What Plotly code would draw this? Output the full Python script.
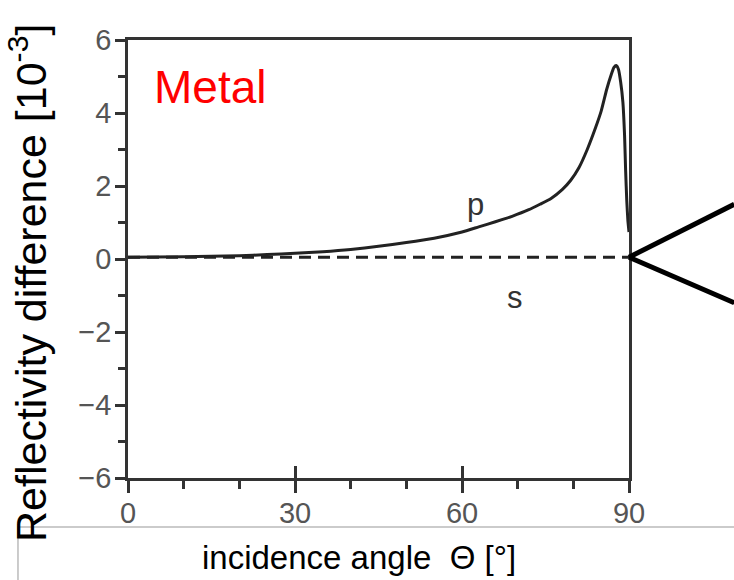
import plotly.graph_objects as go

# Incidence angle (degrees) and reflectivity difference (units of 1e-3)
angle_p = [0, 10, 20, 25, 30, 35, 40, 45, 50, 55, 60, 63, 66, 69, 72, 74, 76,
           78, 79.5, 81, 82.5, 84, 85, 86, 86.8, 87.3, 87.7, 88.1, 88.5, 88.9,
           89.2, 89.4, 89.6, 89.8, 90]
diff_p = [0.05, 0.06, 0.09, 0.12, 0.16, 0.2, 0.26, 0.35, 0.45, 0.57, 0.74,
          0.88, 1.02, 1.17, 1.35, 1.5, 1.66, 1.9, 2.15, 2.5, 3.0, 3.6, 4.05,
          4.65, 5.05, 5.25, 5.3, 5.2, 4.85, 4.3, 3.4, 2.4, 1.6, 1.05, 0.74]
angle_s = [0, 30, 60, 90]
diff_s = [0.05, 0.05, 0.05, 0.05]

x_ticks = [0, 30, 60, 90]
x_tick_text = ["0", "30", "60", "90"]
y_ticks = [-6, -4, -2, 0, 2, 4, 6]
y_tick_text = ["\u22126", "\u22124", "\u22122", "0", "2", "4", "6"]

X_RANGE = [0, 90]
Y_RANGE = [-6, 6]
FONT = "Liberation Sans, Arial, sans-serif"

fig = go.Figure()
fig.add_trace(go.Scatter(x=angle_s, y=diff_s, mode="lines",
                         line=dict(color="#222", width=3, dash="12px,7px"),
                         showlegend=False, hoverinfo="skip"))
fig.add_trace(go.Scatter(x=angle_p, y=diff_p, mode="lines",
                         line=dict(color="#222", width=3, shape="spline", smoothing=0.5),
                         showlegend=False, hoverinfo="skip"))
# helper trace so the crossing-tick overlay axis is rendered
fig.add_trace(go.Scatter(x=[X_RANGE[0]], y=[0], xaxis="x2", mode="markers",
                         marker=dict(opacity=0), showlegend=False, hoverinfo="skip"))

axis_common = dict(showgrid=False, zeroline=False, linecolor="#333", linewidth=2.5,
                   mirror=True, tickcolor="#333", tickwidth=2.5,
                   tickfont=dict(family=FONT, size=29, color="#555"))

fig.update_layout(
    width=734, height=580,
    margin=dict(l=128, r=105, t=40, b=102),
    paper_bgcolor="white", plot_bgcolor="white",
    xaxis=dict(range=X_RANGE, tickvals=x_ticks, ticktext=x_tick_text,
               ticks="outside", ticklen=12, ticklabelstandoff=-5,
               minor=dict(dtick=10, ticks="outside", ticklen=8,
                          tickcolor="#333", tickwidth=2.5),
               **axis_common),
    xaxis2=dict(range=X_RANGE, overlaying="x", anchor="y", side="bottom",
                tickvals=[30, 60], ticks="inside", ticklen=12, tickwidth=2.5,
                tickcolor="#333", showticklabels=False, showline=False,
                showgrid=False, zeroline=False),
    yaxis=dict(range=Y_RANGE, tickvals=y_ticks, ticktext=y_tick_text,
               ticks="outside", ticklen=10, ticklabelstandoff=-2,
               minor=dict(dtick=1, ticks="outside", ticklen=7,
                          tickcolor="#333", tickwidth=2.5),
               **axis_common),
)

def px_x(v):
    return (v - X_RANGE[0]) / (X_RANGE[1] - X_RANGE[0])

def px_y(v):
    return (v - Y_RANGE[0]) / (Y_RANGE[1] - Y_RANGE[0])

annotations = [
    dict(text="Metal", x=14.7, y=4.7, xref="x", yref="y", showarrow=False,
         font=dict(family=FONT, size=46, color="#ff0000")),
    dict(text="p", x=62.5, y=1.5, xref="x", yref="y", showarrow=False,
         font=dict(family=FONT, size=31, color="#333")),
    dict(text="s", x=69.5, y=-1.05, xref="x", yref="y", showarrow=False,
         font=dict(family=FONT, size=31, color="#333")),
    dict(text="Reflectivity difference [10<sup>-3</sup>]", textangle=-90,
         x=0, y=0.5, xref="paper", yref="paper", xanchor="center", yanchor="middle",
         xshift=-100, yshift=-24, showarrow=False,
         font=dict(family=FONT, size=43, color="#000")),
    dict(text="incidence angle  \u0398 [\u00b0]", x=0.5, y=0, xref="paper", yref="paper",
         xanchor="center", yanchor="middle", xshift=-20, yshift=-79, showarrow=False,
         font=dict(family=FONT, size=33, color="#000")),
]
fig.update_layout(annotations=annotations)

# zoom-out indicator lines leaving the end of the curve at 90 degrees
apex_x = px_x(angle_s[-1])
apex_y = px_y(diff_s[-1])
shapes = [
    dict(type="line", xref="paper", yref="paper", x0=apex_x, y0=apex_y,
         x1=1.21, y1=0.625, line=dict(color="black", width=5)),
    dict(type="line", xref="paper", yref="paper", x0=apex_x, y0=apex_y,
         x1=1.21, y1=0.40, line=dict(color="black", width=5)),
    # light frame around the axis-title strip
    dict(type="path", xref="paper", yref="paper",
         path="M 1.22,-0.112 L -0.2196,-0.112 L -0.2196,-0.26",
         line=dict(color="#bbb", width=1.5)),
]
fig.update_layout(shapes=shapes)

fig.write_html("out.html")
